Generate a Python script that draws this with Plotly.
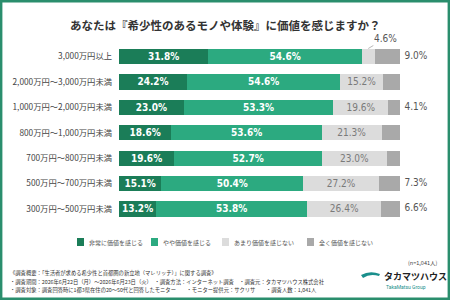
import plotly.graph_objects as go

title = "あなたは『希少性のあるモノや体験』に価値を感じますか？"
categories = ["3,000万円以上", "2,000万円～3,000万円未満", "1,000万円～2,000万円未満",
              "800万円～1,000万円未満", "700万円～800万円未満", "500万円～700万円未満",
              "300万円～500万円未満"]
series_names = ["非常に価値を感じる", "やや価値を感じる", "あまり価値を感じない", "全く価値を感じない"]
very = [31.8, 24.2, 23.0, 18.6, 19.6, 15.1, 13.2]
some = [54.6, 54.6, 53.3, 53.6, 52.7, 50.4, 53.8]
notmuch = [4.6, 15.2, 19.6, 21.3, 23.0, 27.2, 26.4]
none = [9.0, 6.1, 4.1, 6.6, 4.7, 7.3, 6.6]
note_n = "(n=1,041人)"
footer = [
    "《調査概要：「生活者が求める希少性と首都圏の新立地（マレリッチ）」に関する調査》",
    "・調査期間：2026年6月22日（月）～2026年6月23日（火）　・調査方法：インターネット調査　・調査元：タカマツハウス株式会社",
    "・調査対象：調査回答時に1都3県在住の20～50代と回答したモニター　　・モニター提供元：サクリサ　　・調査人数：1,041人",
]

colors = ["#1b7d58", "#2caa80", "#dcdcdc", "#a9a9a9"]
txtcol = ["white", "white", "#7a7a7a", "#555555"]
NUM = "DejaVu Sans Condensed"
JP = "Noto Sans CJK JP"

fig = go.Figure()
data = [very, some, notmuch, none]
for i, vals in enumerate(data):
    if i == 3:
        text = None
    elif i == 2:
        text = [f"{v:.1f}%" if v >= 8 else "" for v in vals]
    else:
        text = [f"{v:.1f}%" for v in vals]
    fig.add_trace(go.Bar(
        y=categories, x=vals, orientation="h", name=series_names[i],
        marker=dict(color=colors[i], line=dict(width=0)),
        text=text, textposition="inside", insidetextanchor="middle",
        textfont=dict(family=NUM, size=10, color=txtcol[i],
                      weight="bold" if i < 2 else "normal"),
        constraintext="none", width=0.6, showlegend=False,
    ))

totals = [a + b + c + d for a, b, c, d in zip(very, some, notmuch, none)]
fig.add_trace(go.Scatter(
    y=categories, x=totals, mode="text",
    text=[f"\u2002{v:.1f}%" for v in none], textposition="middle right",
    textfont=dict(family=NUM, size=10, color="#555555"), showlegend=False,
    hoverinfo="skip", cliponaxis=False,
))

# small-segment label with leader line
for k, v in enumerate(notmuch):
    if v < 8:
        fig.add_annotation(
            x=very[k] + some[k] + v / 2, y=categories[k], xref="x", yref="y",
            text=f"{v:.1f}%", showarrow=True, arrowhead=0, arrowwidth=0.7,
            arrowcolor="#999999", ax=17, ay=-10, yshift=8, standoff=0,
            font=dict(family=NUM, size=10, color="#555555"),
        )

W, H = 450, 300
def px(x): return x / W
def py(y): return 1 - y / H

# manual legend
box_x = [77, 151, 222, 307]
for i, name in enumerate(series_names):
    fig.add_shape(type="rect", xref="paper", yref="paper",
                  x0=px(box_x[i]), x1=px(box_x[i] + 7), y0=py(246), y1=py(238),
                  fillcolor=colors[i], line=dict(width=0))
    fig.add_annotation(x=px(box_x[i] + 10), y=py(242), xref="paper", yref="paper",
                       text=name, showarrow=False, xanchor="left", yanchor="middle",
                       font=dict(family=JP, size=6, color="#555555"))

# title
fig.add_annotation(x=0.5, y=py(25), xref="paper", yref="paper", text=f"<b>{title}</b>",
                   showarrow=False, xanchor="center", yanchor="middle",
                   font=dict(family=JP, size=11.5, color="#333333"))

# footer
for j, line in enumerate(footer):
    fig.add_annotation(x=px(8), y=py(273 + 8.5 * j), xref="paper", yref="paper",
                       text=line, showarrow=False, xanchor="left", yanchor="middle",
                       font=dict(family=JP, size=5.3, color="#333333"))
fig.add_annotation(x=px(440), y=py(263), xref="paper", yref="paper", text=note_n,
                   showarrow=False, xanchor="right", yanchor="middle",
                   font=dict(family=JP, size=5.5, color="#444444"))

# logo
fig.add_shape(type="path", xref="paper", yref="paper", xsizemode="pixel", ysizemode="pixel",
              xanchor=px(370), yanchor=py(281),
              path="M -7,0 A 6,6 0 1,0 5,0 A 6,6 0 1,0 -7,0 Z M -4,0 A 3,3 0 1,1 2,0 A 3,3 0 1,1 -4,0 Z",
              fillcolor="#1a8f8c", line=dict(width=0))
fig.add_shape(type="path", xref="paper", yref="paper", xsizemode="pixel", ysizemode="pixel",
              xanchor=px(370), yanchor=py(281),
              path="M -9,6 Q 0,11 10,7 L 9,5 Q 0,8 -7,3 Z",
              fillcolor="#1a8f8c", line=dict(width=0))
fig.add_annotation(x=px(382), y=py(276), xref="paper", yref="paper", text="<b>タカマツハウス</b>",
                   showarrow=False, xanchor="left", yanchor="middle",
                   font=dict(family=JP, size=9, color="#222222"))
fig.add_annotation(x=px(384), y=py(287), xref="paper", yref="paper", text="TakaMatsu Group",
                   showarrow=False, xanchor="left", yanchor="middle",
                   font=dict(family="Roboto", size=5, color="#1a8f8c"))

# frame
fig.add_shape(type="rect", xref="paper", yref="paper", x0=px(1.2), x1=px(448.8),
              y0=py(298.8), y1=py(1.2), line=dict(color="#2a8e6d", width=2.4))

fig.update_layout(
    width=W, height=H, margin=dict(l=0, r=0, t=0, b=0),
    paper_bgcolor="white", plot_bgcolor="white", barmode="stack",
    xaxis=dict(domain=[119 / W, 400 / W], range=[0, 100], visible=False, fixedrange=True),
    yaxis=dict(domain=[1 - 221.7 / H, 1 - 43.8 / H], type="category", autorange="reversed",
               showgrid=False, zeroline=False, showline=False, ticks="",
               ticklabelstandoff=6,
               tickfont=dict(family=JP, size=8.3, color="#444444")),
    uniformtext=dict(mode=False),
)

fig.write_html("out.html")
